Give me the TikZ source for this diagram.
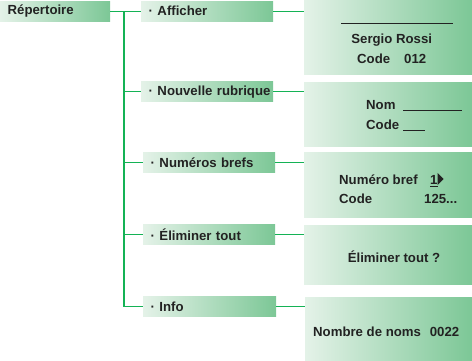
\documentclass[tikz,border=0pt]{standalone}
\usepackage{fontspec}
\setmainfont{Liberation Sans}
\definecolor{lnk}{RGB}{20,178,85}
\definecolor{gl}{RGB}{228,242,232}
\definecolor{gr}{RGB}{124,199,150}
\definecolor{txt}{RGB}{34,34,34}
\begin{document}
\begin{tikzpicture}[x=1pt,y=-1pt,
  font=\fontsize{13.2}{15}\selectfont\bfseries,
  every node/.style={text=txt},
  shadebox/.style={left color=gl,right color=gr,inner sep=0pt,anchor=north west},
  menubox/.style={shadebox,minimum height=20pt,align=left,inner xsep=7.5pt},
  panel/.style={shadebox},
  conn/.style={draw=lnk,line width=1.3pt},
  lbl/.style={inner sep=0pt}]
\useasboundingbox (0,0) rectangle (472,361);
% menu boxes
\node[menubox,text width=95pt] (rep) at (0,1) {Répertoire};
\node[menubox,text width=117pt] (aff) at (141,1) {\textperiodcentered\ Afficher};
\node[menubox,text width=117pt] (nouv) at (141,81.5) {\makebox[117pt][l]{\textperiodcentered\ Nouvelle rubrique}};
\node[menubox,text width=117pt] (num) at (143,152.5) {\textperiodcentered\ Numéros brefs};
\node[menubox,text width=117pt] (elim) at (143,224.5) {\textperiodcentered\ Éliminer tout};
\node[menubox,text width=118pt] (info) at (143,296.5) {\textperiodcentered\ Info};
% panels
\node[panel,minimum width=168pt,minimum height=74pt] (p1) at (304,0) {};
\node[panel,minimum width=168pt,minimum height=64pt] (p2) at (304,82) {};
\node[panel,minimum width=168pt,minimum height=65pt] (p3) at (304,152) {};
\node[panel,minimum width=168pt,minimum height=59pt] (p4) at (304,225) {};
\node[panel,minimum width=167pt,minimum height=64pt] (p5) at (305,297) {};
% connectors
\coordinate (tk) at (124,12);
\draw[conn] (rep.east) -- (aff.west);
\draw[conn] (rep.east -| tk) |- (info.west);
\draw[conn] (tk |- nouv.west) -- (nouv.west);
\draw[conn] (tk |- num.west) -- (num.west);
\draw[conn] (tk |- elim.west) -- (elim.west);
\draw[conn] (aff.east) -- (aff.east -| p1.west);
\draw[conn] (nouv.east) -- (nouv.east -| p2.west);
\draw[conn] (num.east) -- (num.east -| p3.west);
\draw[conn] (elim.east) -- (elim.east -| p4.west);
\draw[conn] (info.east) -- (info.east -| p5.west);
% panel texts
\node[lbl,anchor=base west] (t1a) at (341,23.5) {\rule{112pt}{0.9pt}};
\node[lbl,anchor=base] (t1b) at (391.7,44) {Sergio Rossi};
\node[lbl,anchor=base west] (t1c) at (357,64) {\makebox[69pt]{Code\hfill 012}};
\node[lbl,anchor=base west] (t2a) at (366,110) {\makebox[37pt][l]{Nom}\rule[-1.2pt]{59pt}{0.9pt}};
\node[lbl,anchor=base west] (t2b) at (366,130) {\makebox[37pt][l]{Code}\rule[-1.2pt]{22pt}{0.9pt}};
\node[lbl,anchor=base west] (t3a) at (339,185) {\makebox[91pt][l]{Numéro bref}\underline{1}};
\fill[txt] (437.5,173) -- (437.5,185) -- (443.5,179) -- cycle;
\node[lbl,anchor=base west] (t3b) at (339,204) {\makebox[118pt]{Code\hfill 125...}};
\node[lbl,anchor=base] (t4) at (394,262) {Éliminer tout ?};
\node[lbl,anchor=base west] (t5) at (313,336.5) {\makebox[146pt]{Nombre de noms\hfill 0022}};
\end{tikzpicture}
\end{document}
